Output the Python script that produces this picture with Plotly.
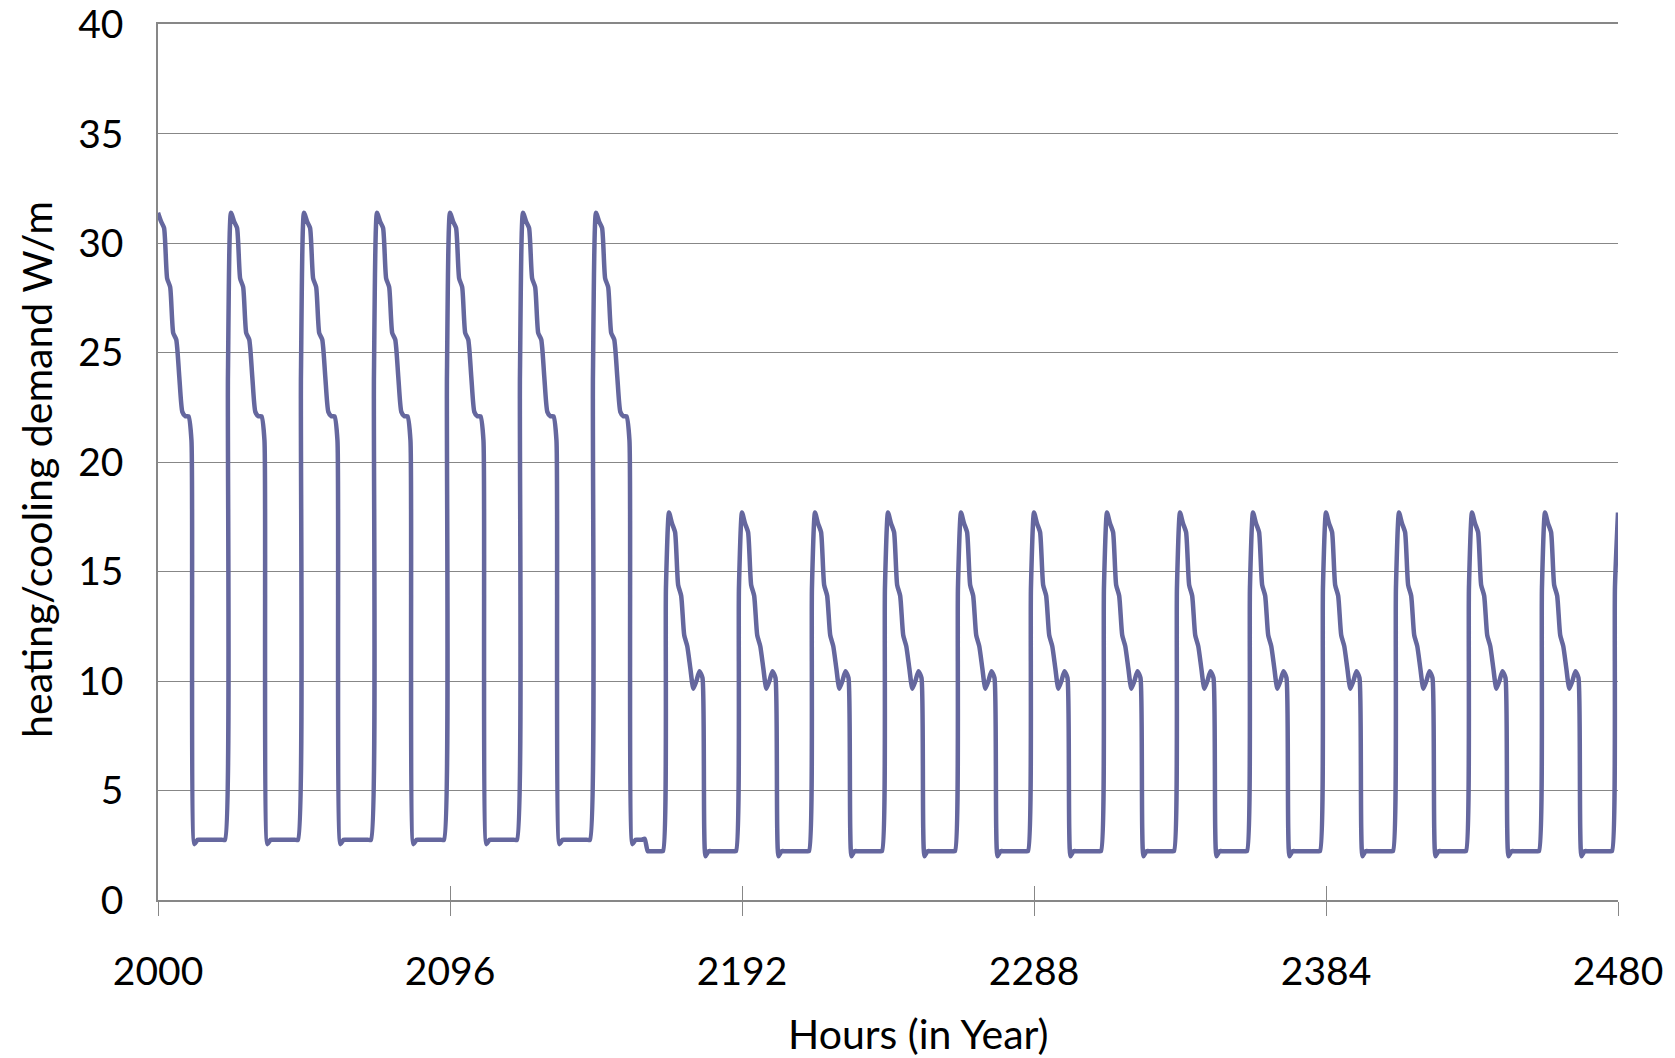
import plotly.graph_objects as go

# ---- data (hourly values, one day = 24 h) ----
start_hour = 2000
# high-demand days (peak at 2000, 2024, ... , 2120)
high_day = [31.4, 31.0, 30.7, 28.4, 28.0, 25.9, 25.6, 23.9, 22.3, 22.1, 22.1, 21.0,
            2.55, 2.75, 2.75, 2.75, 2.75, 2.75, 2.75, 2.75, 2.75, 2.75, 2.75, 24.0]
n_high_days = 6
# transition day (peak at 2144)
transition_day = [31.4, 31.0, 30.7, 28.4, 28.0, 25.9, 25.6, 23.9, 22.3, 22.1, 22.1, 21.0,
                  2.55, 2.75, 2.75, 2.75, 2.8, 2.23, 2.23, 2.23, 2.23, 2.23, 2.23, 14.3]
# low-demand days (peak at 2168, 2192, ... , 2456)
low_day = [17.7, 17.2, 16.8, 14.4, 13.9, 12.1, 11.6, 10.6, 9.65, 10.0, 10.45, 10.15,
           2.0, 2.23, 2.23, 2.23, 2.23, 2.23, 2.23, 2.23, 2.23, 2.23, 2.23, 14.3]
n_low_days = 13
last_value = [17.7]  # hour 2480

x_tick_vals = [2000, 2096, 2192, 2288, 2384, 2480]
y_tick_vals = [0, 5, 10, 15, 20, 25, 30, 35, 40]

demand = high_day * n_high_days + transition_day + low_day * n_low_days + last_value
hours = list(range(start_hour, start_hour + len(demand)))

FONT = "Lato"
GRID = "#878787"

fig = go.Figure()
fig.add_trace(go.Scatter(
    x=hours, y=demand, mode="lines",
    line=dict(color="#65679E", width=4.5, shape="spline", smoothing=0.55),
    showlegend=False, cliponaxis=False,
))
# helper traces on extra x-axes: tick marks crossing the axis line, and the top gridline
fig.add_trace(go.Scatter(x=[x_tick_vals[0]], y=[None], xaxis="x2", showlegend=False,
                         hoverinfo="skip"))
fig.add_trace(go.Scatter(x=[x_tick_vals[0]], y=[None], xaxis="x3", showlegend=False,
                         hoverinfo="skip"))

fig.update_layout(
    width=1675, height=1058,
    margin=dict(l=158, r=57, t=24, b=158, autoexpand=False),
    paper_bgcolor="white", plot_bgcolor="white",
    font=dict(family=FONT, color="black"),
    xaxis=dict(
        range=[2000, 2480], tickvals=x_tick_vals, ticktext=[str(v) for v in x_tick_vals],
        showgrid=False, zeroline=False, automargin=False,
        showline=True, linecolor=GRID, linewidth=1.5,
        ticks="outside", ticklen=14, tickcolor=GRID, tickwidth=1,
        tickfont=dict(size=39, family=FONT), ticklabelstandoff=22,
    ),
    xaxis2=dict(
        range=[2000, 2480], tickvals=x_tick_vals, overlaying="x", side="bottom",
        showgrid=False, zeroline=False, showline=False, showticklabels=False,
        automargin=False,
        ticks="inside", ticklen=14, tickcolor=GRID, tickwidth=1,
    ),
    xaxis3=dict(
        range=[2000, 2480], overlaying="x", side="top",
        showgrid=False, zeroline=False, showline=True, linecolor=GRID, linewidth=1.5,
        showticklabels=False, ticks="", automargin=False,
    ),
    yaxis=dict(
        range=[0, 40.02], tickvals=y_tick_vals, automargin=False,
        showgrid=True, gridcolor=GRID, gridwidth=1,
        zeroline=False, showline=True, linecolor=GRID, linewidth=1.5,
        ticks="", tickfont=dict(size=39, family=FONT), ticklabelstandoff=25,
    ),
    annotations=[
        dict(text="Hours (in Year)", xref="paper", yref="paper", x=0.5, y=0,
             xshift=30, yshift=-133, showarrow=False, xanchor="center", yanchor="middle",
             font=dict(size=41, family=FONT)),
        dict(text="heating/cooling demand W/m", xref="paper", yref="paper", x=0, y=0.491,
             xshift=-121, textangle=-90, showarrow=False, xanchor="center", yanchor="middle",
             font=dict(size=41, family=FONT)),
    ],
)

fig.write_html("out.html")
